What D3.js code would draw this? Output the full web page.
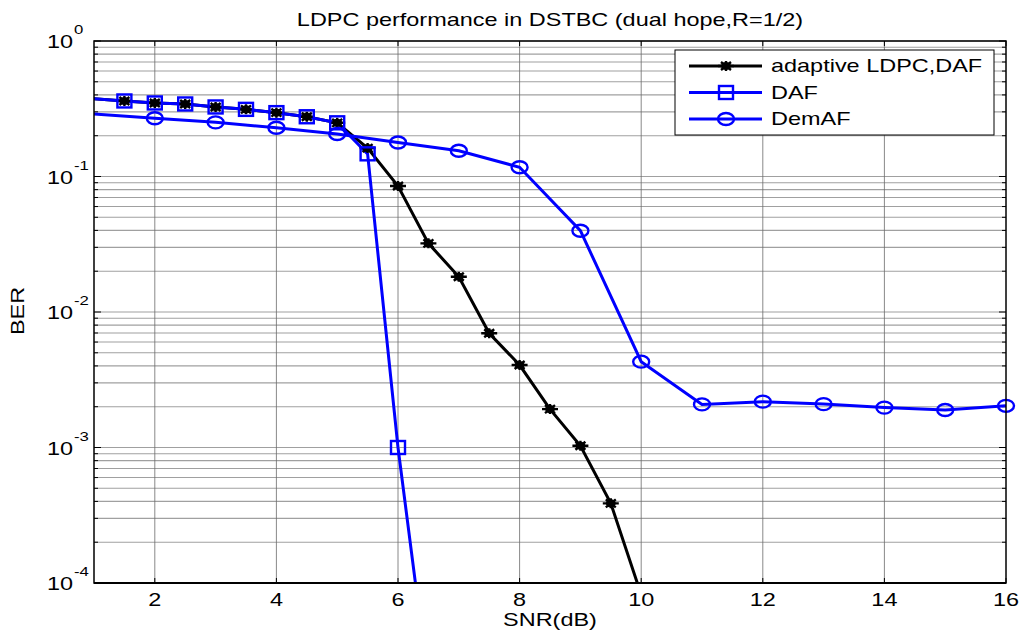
<!DOCTYPE html>
<html>
<head>
<meta charset="utf-8">
<script src="https://cdn.jsdelivr.net/npm/d3@7"></script>
<style>
  body { margin: 0; background: #fff; }
  text { font-family: "Liberation Sans", Arial, sans-serif; fill: #000; }
</style>
</head>
<body>
<div id="chart"></div>
<script>
// data
const snrLdpc = [0.5, 1.5, 2, 2.5, 3, 3.5, 4, 4.5, 5, 5.5, 6, 6.5, 7, 7.5, 8, 8.5, 9, 9.5, 10];
const berLdpc = [0.39, 0.361, 0.349, 0.343, 0.326, 0.313, 0.296, 0.276, 0.249, 0.162, 0.0851, 0.0321, 0.0182, 0.00697, 0.00406, 0.00192, 0.00103, 0.000387, 0.000082];

const snrDaf = [0.5, 1.5, 2, 2.5, 3, 3.5, 4, 4.5, 5, 5.5, 6, 6.5];
const berDaf = [0.39, 0.361, 0.349, 0.343, 0.326, 0.313, 0.296, 0.276, 0.249, 0.147, 0.001, 0.000018];

const snrDem = [0, 2, 3, 4, 5, 6, 7, 8, 9, 10, 11, 12, 13, 14, 15, 16];
const berDem = [0.31, 0.269, 0.251, 0.229, 0.206, 0.178, 0.155, 0.117, 0.0398, 0.0043, 0.00208, 0.00218, 0.00209, 0.00197, 0.00189, 0.00203];

const seriesNames = ["adaptive LDPC,DAF", "DAF", "DemAF"];
const xTicks = [2, 4, 6, 8, 10, 12, 14, 16];
const yDecades = [0, -1, -2, -3, -4];

const W = 1021, H = 634;
const margin = { top: 41, right: 15, bottom: 51, left: 94 };
const width = W - margin.left - margin.right,
    height = H - margin.top - margin.bottom;

const FS = 17.5, SX = 1.34; // font size and horizontal stretch of the picture

const x = d3.scaleLinear().domain([1, 16]).range([0, width]);
const y = d3.scaleLog().domain([1e-4, 1]).range([height, 0]);

const svg = d3.select("#chart").append("svg")
    .attr("width", W).attr("height", H);

// stretched text helper
function label(parent, px, py, str, anchor, size) {
    return parent.append("g")
        .attr("transform", "translate(" + px + "," + py + ") scale(" + SX + ",1)")
        .append("text")
        .attr("text-anchor", anchor || "start")
        .style("font-size", (size || FS) + "px")
        .text(str);
}

const g = svg.append("g")
    .attr("transform", "translate(" + margin.left + "," + margin.top + ")");

g.append("defs").append("clipPath").attr("id", "clip")
    .append("rect").attr("width", width).attr("height", height);

// minor + major horizontal grid
const yGrid = [];
yDecades.slice(1).forEach(e => {
    for (let m = 1; m < 10; m++) yGrid.push(m * Math.pow(10, e));
});
yGrid.push(1);

g.selectAll(".hgrid").data(yGrid).enter().append("line")
    .attr("class", "hgrid")
    .attr("x1", 0).attr("x2", width)
    .attr("y1", d => y(d)).attr("y2", d => y(d))
    .style("stroke", "#a0a0a0").style("stroke-width", 1.1);

g.selectAll(".vgrid").data(xTicks.filter(d => d < 16)).enter().append("line")
    .attr("class", "vgrid")
    .attr("x1", d => x(d)).attr("x2", d => x(d))
    .attr("y1", 0).attr("y2", height)
    .style("stroke", "#6a6a6a").style("stroke-width", 0.8);

// ticks (inside, both sides)
const tickG = g.append("g");
xTicks.forEach(t => {
    tickG.append("line").attr("x1", x(t)).attr("x2", x(t)).attr("y1", height).attr("y2", height - 5);
    tickG.append("line").attr("x1", x(t)).attr("x2", x(t)).attr("y1", 0).attr("y2", 5);
});
yGrid.forEach(t => {
    const len = Math.abs(Math.log10(t) - Math.round(Math.log10(t))) < 1e-9 ? 7 : 4;
    tickG.append("line").attr("x1", 0).attr("x2", len).attr("y1", y(t)).attr("y2", y(t));
    tickG.append("line").attr("x1", width).attr("x2", width - len).attr("y1", y(t)).attr("y2", y(t));
});
tickG.selectAll("line").style("stroke", "#000").style("stroke-width", 1);

// series
const line = d3.line().x(d => x(d[0])).y(d => y(d[1]));
const inView = d => d[0] >= 1 && d[0] <= 16 && d[1] >= 1e-4 && d[1] <= 1;

const ldpc = d3.zip(snrLdpc, berLdpc),
    daf = d3.zip(snrDaf, berDaf),
    dem = d3.zip(snrDem, berDem);

const plot = g.append("g").attr("clip-path", "url(#clip)");

function star(sel) {
    sel.append("path")
        .attr("d", "M-8,0H8M0,-5V5M-5,-4L5,4M-5,4L5,-4")
        .style("stroke", "#000").style("stroke-width", 2.4).style("fill", "none");
    sel.append("ellipse").attr("rx", 5).attr("ry", 4).style("fill", "#000");
}
function square(sel) {
    sel.append("rect").attr("x", -7).attr("y", -6.5).attr("width", 14).attr("height", 13)
        .style("fill", "none").style("stroke", "#0000ff").style("stroke-width", 2.4);
}
function ring(sel) {
    sel.append("ellipse").attr("rx", 8).attr("ry", 6)
        .style("fill", "none").style("stroke", "#0000ff").style("stroke-width", 2.4);
}

plot.append("path").datum(ldpc).attr("d", line)
    .style("fill", "none").style("stroke", "#000").style("stroke-width", 3);
g.selectAll(".m-ldpc").data(ldpc.filter(inView)).enter().append("g")
    .attr("transform", d => "translate(" + x(d[0]) + "," + y(d[1]) + ")").call(star);

plot.append("path").datum(daf).attr("d", line)
    .style("fill", "none").style("stroke", "#0000ff").style("stroke-width", 3);
g.selectAll(".m-daf").data(daf.filter(inView)).enter().append("g")
    .attr("transform", d => "translate(" + x(d[0]) + "," + y(d[1]) + ")").call(square);

plot.append("path").datum(dem).attr("d", line)
    .style("fill", "none").style("stroke", "#0000ff").style("stroke-width", 3);
g.selectAll(".m-dem").data(dem.filter(inView)).enter().append("g")
    .attr("transform", d => "translate(" + x(d[0]) + "," + y(d[1]) + ")").call(ring);

// axes box
g.append("rect").attr("width", width).attr("height", height)
    .style("fill", "none").style("stroke", "#000").style("stroke-width", 1.5);
g.append("line").attr("x1", 0).attr("x2", width).attr("y1", height).attr("y2", height)
    .style("stroke", "#000").style("stroke-width", 2.2);

// tick labels
xTicks.forEach(t => label(g, x(t), height + 22.5, t, "middle"));
yDecades.forEach(e => {
    const py = y(Math.pow(10, e));
    label(g, -21, py + 7, "10", "end");
    label(g, -20, py - 7, String(e), "start", 12.5);
});

// titles
label(svg, margin.left + width / 2, 26, "LDPC performance in DSTBC (dual hope,R=1/2)", "middle");
label(svg, margin.left + width / 2, 625.5, "SNR(dB)", "middle");
svg.append("g").attr("transform", "translate(24,311) rotate(-90) scale(" + SX + ",1)")
    .append("text").attr("text-anchor", "middle").style("font-size", FS + "px").text("BER");

// legend
const lg = svg.append("g").attr("transform", "translate(675,50)");
lg.append("rect").attr("width", 319).attr("height", 85)
    .style("fill", "#fff").style("stroke", "#000").style("stroke-width", 1);
const markers = [star, square, ring];
const colors = ["#000", "#0000ff", "#0000ff"];
seriesNames.forEach((name, i) => {
    const ly = 16 + i * 26.5;
    lg.append("line").attr("x1", 14).attr("x2", 87).attr("y1", ly).attr("y2", ly)
        .style("stroke", colors[i]).style("stroke-width", 3);
    lg.append("g").attr("transform", "translate(51," + ly + ")").call(markers[i]);
    label(lg, 96, ly + 6, name, "start");
});
</script>
</body>
</html>
